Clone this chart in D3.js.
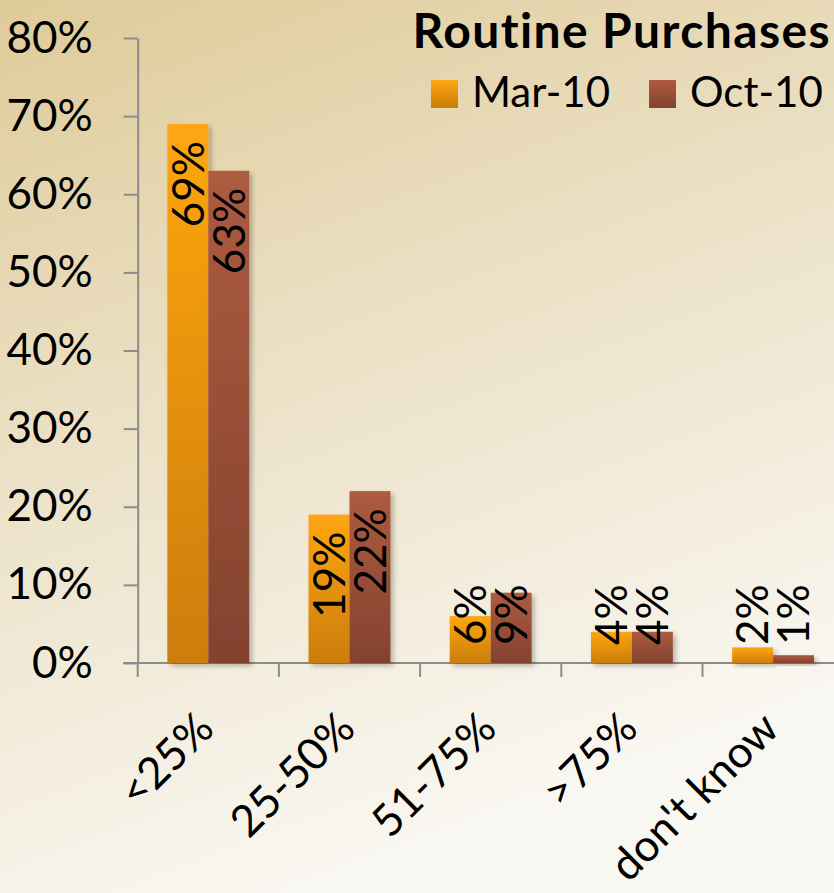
<!DOCTYPE html>
<html>
<head>
<meta charset="utf-8">
<script src="https://cdn.jsdelivr.net/npm/d3@7"></script>
<style>
  html, body { margin: 0; padding: 0; }
  body { width: 834px; height: 893px; overflow: hidden; }
  text { font-family: Lato, "Open Sans", sans-serif; }
</style>
</head>
<body>
<div id="vis"></div>
<script>
// values
let categories = ['<25%', '25-50%', '51-75%', '>75%', "don't know"];
let series = ['Mar-10', 'Oct-10'];
let mar10 = [0.69, 0.19, 0.06, 0.04, 0.02];
let oct10 = [0.63, 0.22, 0.09, 0.04, 0.01];
let yTicks = [0, 0.1, 0.2, 0.3, 0.4, 0.5, 0.6, 0.7, 0.8];

let W = 834, H = 893;
let fontSize = 44;

let svg = d3.select('#vis')
  .append('svg')
  .attr('width', W)
  .attr('height', H)
  .attr('viewBox', [0, 0, W, H].join(' '));

let defs = svg.append('defs');

// background
let bg = defs.append('linearGradient').attr('id', 'bg')
  .attr('x1', '0').attr('y1', '0').attr('x2', '0.35').attr('y2', '1');
bg.append('stop').attr('offset', '0').attr('stop-color', '#dfcb99');
bg.append('stop').attr('offset', '0.45').attr('stop-color', '#ebe0c4');
bg.append('stop').attr('offset', '1').attr('stop-color', '#f9f7f1');

let gOrange = defs.append('linearGradient').attr('id', 'gOrange')
  .attr('x1', '0').attr('y1', '0').attr('x2', '0').attr('y2', '1');
gOrange.append('stop').attr('offset', '0').attr('stop-color', '#fea612');
gOrange.append('stop').attr('offset', '1').attr('stop-color', '#cc7d08');

let gBrown = defs.append('linearGradient').attr('id', 'gBrown')
  .attr('x1', '0').attr('y1', '0').attr('x2', '0').attr('y2', '1');
gBrown.append('stop').attr('offset', '0').attr('stop-color', '#ad5b40');
gBrown.append('stop').attr('offset', '1').attr('stop-color', '#83422f');

let shadow = defs.append('filter').attr('id', 'shadow')
  .attr('x', '-20%').attr('y', '-20%').attr('width', '150%').attr('height', '150%');
shadow.append('feDropShadow')
  .attr('dx', 3).attr('dy', 3).attr('stdDeviation', 2.5)
  .attr('flood-color', '#000').attr('flood-opacity', 0.25);

svg.append('rect').attr('width', W).attr('height', H).attr('fill', 'url(#bg)');

let fills = { 'Mar-10': 'url(#gOrange)', 'Oct-10': 'url(#gBrown)' };

// scales
let y = d3.scaleLinear().domain([0, 0.8]).range([663, 38]);
let x0 = d3.scaleBand().domain(categories).range([137.7, 843.7]);
let bw = x0.bandwidth();
let x1 = d3.scaleBand().domain(series).range([bw * 0.21, bw * 0.79]);

let rows = categories.map((c, i) => ({ cat: c, values: [mar10[i], oct10[i]] }));

// axes
let axisColor = '#8c8c8c';
let yAxis = svg.append('g')
  .attr('transform', 'translate(137.7,0)')
  .call(d3.axisLeft(y).tickValues(yTicks).tickSize(14).tickSizeOuter(0)
    .tickFormat(d3.format('.0%')));
yAxis.select('.domain').attr('stroke', axisColor).attr('stroke-width', 2);
yAxis.selectAll('.tick line').attr('stroke', axisColor).attr('stroke-width', 2);
yAxis.selectAll('.tick text')
  .attr('x', -45)
  .attr('dy', '0.32em')
  .attr('fill', '#000')
  .style('font-size', fontSize + 'px')
  .style('font-family', 'Lato, sans-serif');

// x axis line + ticks at band edges
svg.append('line')
  .attr('x1', 123).attr('x2', W + 10)
  .attr('y1', y(0)).attr('y2', y(0))
  .attr('stroke', axisColor).attr('stroke-width', 2);
svg.selectAll('.xtick')
  .data(categories.concat(['end']))
  .join('line')
  .attr('class', 'xtick')
  .attr('x1', (d, i) => x0.range()[0] + i * bw)
  .attr('x2', (d, i) => x0.range()[0] + i * bw)
  .attr('y1', y(0)).attr('y2', y(0) + 14)
  .attr('stroke', axisColor).attr('stroke-width', 2);

// bars
let groups = svg.selectAll('.group')
  .data(rows)
  .join('g')
  .attr('class', 'group')
  .attr('transform', d => `translate(${x0(d.cat)},0)`);

groups.selectAll('rect')
  .data(d => d.values.map((v, i) => ({ s: series[i], v: v })))
  .join('rect')
  .attr('x', d => x1(d.s))
  .attr('width', x1.bandwidth())
  .attr('y', d => y(d.v))
  .attr('height', d => y(0) - y(d.v))
  .attr('fill', d => fills[d.s])
  .attr('filter', 'url(#shadow)');

// data labels, rotated, inside end of bar (clamped above the base)
groups.selectAll('.lbl')
  .data(d => d.values.map((v, i) => ({ s: series[i], v: v })))
  .join('text')
  .attr('class', 'lbl')
  .style('font-size', fontSize + 'px')
  .attr('fill', '#000')
  .attr('text-anchor', 'end')
  .text(d => d3.format('.0%')(d.v))
  .each(function(d) {
    let len = this.getComputedTextLength();
    let cx = x1(d.s) + x1.bandwidth() / 2 + fontSize * 0.36;
    let yEnd = Math.min(y(d.v) + 17, y(0) - 18 - len);
    d3.select(this).attr('transform', `translate(${cx},${yEnd}) rotate(-90)`);
  });

// category labels
svg.selectAll('.cat')
  .data(categories)
  .join('text')
  .attr('class', 'cat')
  .attr('text-anchor', 'end')
  .style('font-size', fontSize + 'px')
  .attr('fill', '#000')
  .attr('transform', d => `translate(${x0(d) + bw / 2 + 8},${y(0) + 68}) rotate(-45)`)
  .text(d => d);

// title
svg.append('text')
  .attr('x', 831).attr('y', 48)
  .attr('text-anchor', 'end')
  .style('font-size', '48px')
  .style('letter-spacing', '1.4px')
  .style('font-weight', 'bold')
  .attr('fill', '#000')
  .text('Routine Purchases');

// legend
let legendX = [431, 649];
let legend = svg.selectAll('.legend')
  .data(series)
  .join('g')
  .attr('class', 'legend')
  .attr('transform', (d, i) => `translate(${legendX[i]},80)`);
legend.append('rect')
  .attr('width', 27).attr('height', 28)
  .attr('fill', d => fills[d]);
legend.append('text')
  .attr('x', 41).attr('y', 27)
  .style('font-size', '42px')
  .attr('fill', '#000')
  .text(d => d);
</script>
</body>
</html>
